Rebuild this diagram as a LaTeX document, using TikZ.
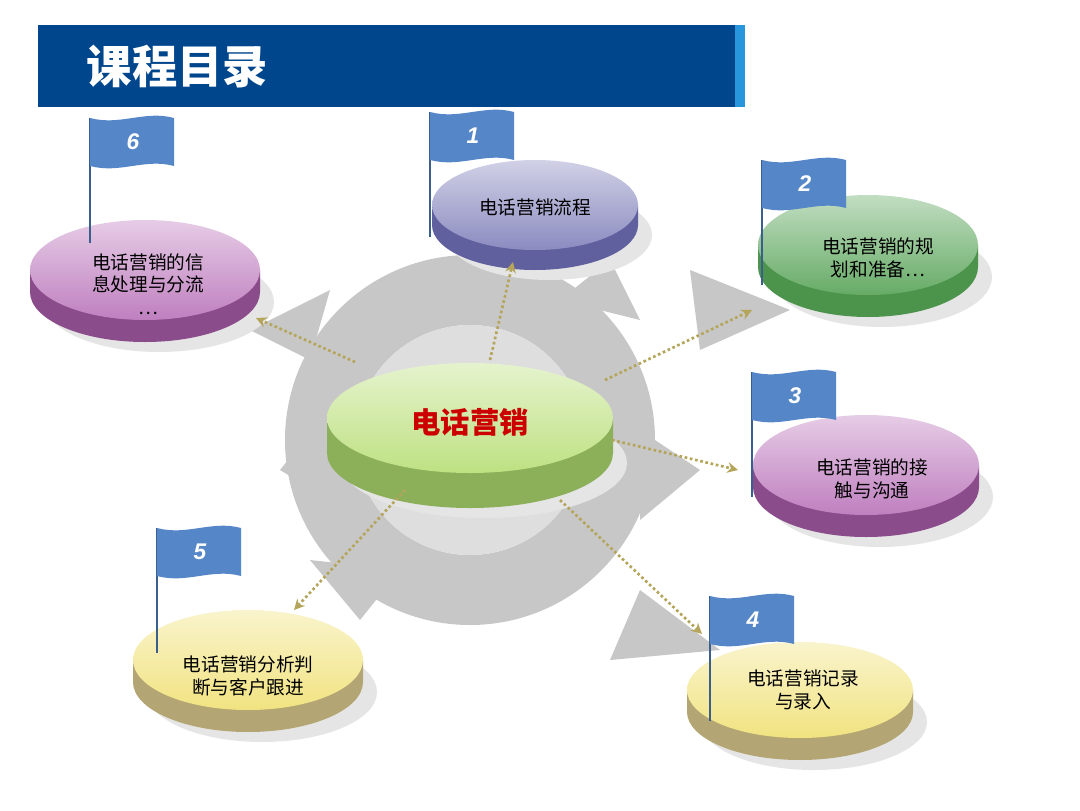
\documentclass[tikz,border=0pt]{standalone}
\usepackage{fontspec}
\setmainfont{Noto Sans CJK SC}
\newfontfamily\numfont{Liberation Sans}
\usetikzlibrary{arrows.meta}
\definecolor{hdr}{RGB}{0,70,140}
\definecolor{hdrl}{RGB}{40,150,220}
\definecolor{flagc}{RGB}{85,135,200}
\definecolor{dotc}{RGB}{180,165,90}
\definecolor{cgreen}{RGB}{190,225,130}
\definecolor{cgreend}{RGB}{140,175,90}
\tikzset{
 lbl/.style={align=center,font=\fontsize{14}{17}\selectfont,text=black},
 num/.style={font=\numfont\bfseries\itshape\fontsize{17}{17}\selectfont,text=white},
 dotarrow/.style={dotc,line width=2pt,dotted,-{Stealth[length=8pt,width=8pt]}},
}
\newcommand\mydisk[7]{%
 \begin{scope}[shift={(#1,#2)}]
  \fill[black!10] (14,#5+10) ellipse[x radius=#3, y radius=#4];
  \fill[#7] (-#3,0) -- (-#3,#5) arc[start angle=180,end angle=0,x radius=#3,y radius=#4] -- (#3,0) -- cycle;
  \shade[top color=#6!40!white,bottom color=#6] (0,0) ellipse[x radius=#3, y radius=#4];
 \end{scope}}
\newcommand\myflag[3]{%
 \draw[flagc!70!black,line width=1.8pt] (#1,#2) -- (#1,#2+125);
 \fill[flagc] (#1,#2) .. controls (#1+30,#2+8) and (#1+55,#2-8) .. (#1+84,#2) -- (#1+84,#2+48) .. controls (#1+55,#2+40) and (#1+30,#2+56) .. (#1,#2+48) -- cycle;
 \node[num] at (#1+43,#2+24) {#3};}
\begin{document}
\begin{tikzpicture}[x=0.75pt,y=-0.75pt]
\useasboundingbox (0,0) rectangle (1080,810);
\fill[white] (0,0) rectangle (1080,810);
% header
\fill[hdr] (38,25) rectangle (735,107);
\fill[hdrl] (735,25) rectangle (745,107);
\node[text=white,font=\bfseries\fontsize{34}{34}\selectfont,anchor=west] (title) at (82,67) {课程目录};
% background gray arrows
\fill[black!22,even odd rule] (470,440) circle[radius=185] (470,440) circle[radius=115];
\fill[black!13] (470,440) circle[radius=115];
\fill[black!22] (250,330) -- (330,290) -- (310,360) -- cycle;
\fill[black!22] (790,310) -- (690,270) -- (700,350) -- cycle;
\fill[black!22] (700,470) -- (640,430) -- (640,520) -- cycle;
\fill[black!22] (720,650) -- (640,590) -- (610,660) -- cycle;
\fill[black!22] (360,620) -- (310,560) -- (400,570) -- cycle;
\fill[black!22] (280,470) -- (320,420) -- (330,500) -- cycle;
\fill[black!22] (610,260) -- (560,300) -- (640,320) -- cycle;
% disks
\mydisk{535}{205}{103}{45}{20}{blue!30!gray!70!white}{blue!25!gray}
\mydisk{868}{245}{110}{50}{22}{green!45!black!60!white}{green!40!black!70}
\mydisk{866}{465}{113}{50}{22}{violet!50!white}{violet!70!black!70}
\mydisk{800}{690}{113}{48}{22}{brown!40!yellow!55!white}{brown!60!yellow!60!black!60}
\mydisk{248}{660}{115}{50}{22}{brown!40!yellow!55!white}{brown!60!yellow!60!black!60}
\mydisk{145}{270}{115}{50}{22}{violet!50!white}{violet!70!black!70}
\mydisk{470}{418}{143}{55}{35}{cgreen}{cgreend}
% labels
\node[lbl] (d1) at (535,207) {电话营销流程};
\node[lbl] (d2) at (878,258) {电话营销的规\\划和准备…};
\node[lbl] (d3) at (872,479) {电话营销的接\\触与沟通};
\node[lbl] (d4) at (803,690) {电话营销记录\\与录入};
\node[lbl] (d5) at (248,676) {电话营销分析判\\断与客户跟进};
\node[lbl] (d6) at (148,284) {电话营销的信\\息处理与分流\\…};
\node[text=red!80!black,font=\bfseries\fontsize{22}{22}\selectfont] (c) at (470,422) {电话营销};
% flags
\myflag{90}{118}{6}
\myflag{430}{112}{1}
\myflag{762}{160}{2}
\myflag{752}{372}{3}
\myflag{710}{596}{4}
\myflag{157}{528}{5}
% connectors
\coordinate (s1) at (490,360); \coordinate (e1) at (513,262);
\coordinate (s2) at (605,380); \coordinate (e2) at (752,310);
\coordinate (s3) at (612,440); \coordinate (e3) at (738,470);
\coordinate (s4) at (560,500); \coordinate (e4) at (702,634);
\coordinate (s5) at (405,490); \coordinate (e5) at (294,610);
\coordinate (s6) at (355,362); \coordinate (e6) at (256,318);
\foreach \i in {1,...,6} \draw[dotarrow] (s\i) -- (e\i);
\end{tikzpicture}
\end{document}
